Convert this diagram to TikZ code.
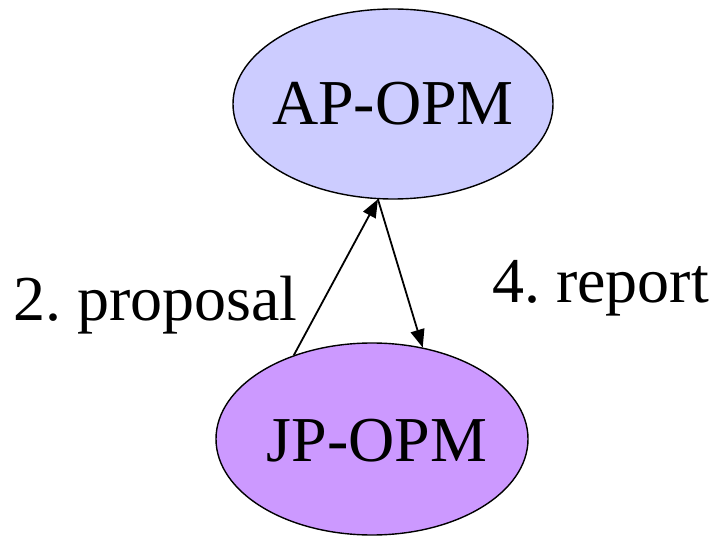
\documentclass[tikz,border=0pt]{standalone}
\usepackage{fontspec}
\setmainfont{Liberation Serif}
\usetikzlibrary{shapes.geometric,arrows.meta}
\definecolor{apfill}{HTML}{CCCCFF}
\definecolor{jpfill}{HTML}{CC99FF}
\frenchspacing
\begin{document}
\begin{tikzpicture}[x=1pt,y=-1pt,
  opm/.style={ellipse,draw=black,line width=1.4pt,inner sep=0pt},
  opmtext/.style={inner sep=0pt,font=\fontsize{64}{70}\selectfont},
  lbl/.style={inner sep=0pt,anchor=base west,font=\fontsize{64}{70}\selectfont},
  conn/.style={line width=1.8pt,-{Triangle[length=18pt,width=14pt]}}]
\useasboundingbox (0,0) rectangle (715,537);
\node[opm,fill=apfill,minimum width=320pt,minimum height=190pt] (ap) at (393,104) {};
\node[opmtext] (aptext) at (ap.center) {AP-OPM};
\node[opm,fill=jpfill,minimum width=312pt,minimum height=192pt] (jp) at (372,439) {};
\node[opmtext] (jptext) at ([shift={(5,2)}]jp.center) {JP-OPM};
\node[lbl] (prop) at (13,321) {2. proposal};
\node[lbl] (rep) at (492,303) {4. report};
\draw[conn] (jp.133) -- (ap.261);
\draw[conn] (ap.261) -- (jp.61);
\end{tikzpicture}
\end{document}
